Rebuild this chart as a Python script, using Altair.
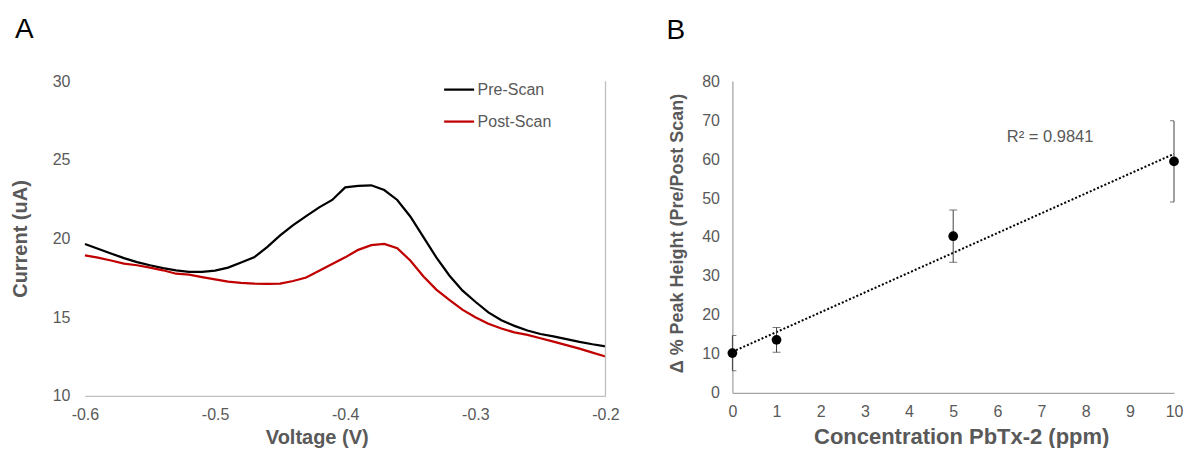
import altair as alt
import pandas as pd

FONT = "Liberation Sans"
GRAY = "#595959"

# ---------------- Panel A data ----------------
voltage = [-0.60, -0.59, -0.58, -0.57, -0.56, -0.55, -0.54, -0.53, -0.52, -0.51,
           -0.50, -0.49, -0.48, -0.47, -0.46, -0.45, -0.44, -0.43, -0.42, -0.41,
           -0.40, -0.39, -0.38, -0.37, -0.36, -0.35, -0.34, -0.33, -0.32, -0.31,
           -0.30, -0.29, -0.28, -0.27, -0.26, -0.25, -0.24, -0.23, -0.22, -0.21,
           -0.20]
pre_scan = [19.65, 19.35, 19.05, 18.75, 18.50, 18.30, 18.12, 17.98, 17.88, 17.88,
            17.96, 18.15, 18.47, 18.80, 19.45, 20.20, 20.85, 21.42, 21.98, 22.45,
            23.25, 23.35, 23.38, 23.08, 22.45, 21.40, 20.10, 18.80, 17.65, 16.70,
            15.98, 15.30, 14.80, 14.45, 14.15, 13.93, 13.78, 13.60, 13.43, 13.28,
            13.15]
post_scan = [18.93, 18.78, 18.60, 18.40, 18.30, 18.15, 17.98, 17.76, 17.71, 17.55,
             17.40, 17.26, 17.18, 17.13, 17.12, 17.13, 17.30, 17.52, 17.95, 18.38,
             18.80, 19.28, 19.58, 19.65, 19.38, 18.60, 17.60, 16.75, 16.10, 15.48,
             15.00, 14.58, 14.28, 14.03, 13.88, 13.66, 13.45, 13.22, 13.00, 12.75,
             12.50]
series_names = ["Pre-Scan", "Post-Scan"]
series_colors = ["#000000", "#C00000"]
x_ticks_A = [-0.6, -0.5, -0.4, -0.3, -0.2]
y_ticks_A = [10, 15, 20, 25, 30]

# ---------------- Panel B data ----------------
concentration = [0, 1, 5, 10]
peak_change = [10.2, 13.6, 40.2, 59.4]
peak_error = [4.5, 3.2, 6.7, 10.4]
x_ticks_B = [0, 1, 2, 3, 4, 5, 6, 7, 8, 9, 10]
y_ticks_B = [0, 10, 20, 30, 40, 50, 60, 70, 80]
r2_label = "R² = 0.9841"

dfA = pd.DataFrame({
    "Voltage": voltage + voltage,
    "Current": pre_scan + post_scan,
    "Series": [series_names[0]] * len(voltage) + [series_names[1]] * len(voltage),
})
dfB = pd.DataFrame({
    "conc": concentration,
    "peak": peak_change,
    "lo": [p - e for p, e in zip(peak_change, peak_error)],
    "hi": [p + e for p, e in zip(peak_change, peak_error)],
})

W_A, H_A = 521, 315
W_B, H_B = 442, 312

minus_fix = "replace(datum.label, '\u2212', '-')"

xA = alt.X("Voltage:Q",
           scale=alt.Scale(domain=[-0.6, -0.2], nice=False, zero=False),
           axis=alt.Axis(values=x_ticks_A, format=".1f", labelExpr=minus_fix,
                         labelFlush=False, labelOverlap=False,
                         title="Voltage (V)", titleX=232, titleY=42,
                         titleBaseline="middle", labelPadding=11,
                         domainColor="#BFBFBF"))
yA = alt.Y("Current:Q",
           scale=alt.Scale(domain=[10, 30], nice=False, zero=False),
           axis=alt.Axis(values=y_ticks_A, title="Current (uA)",
                         labelFlush=False, labelOverlap=False,
                         titleX=-64, titleY=H_A / 2, titleBaseline="middle",
                         labelPadding=15, domain=False))

linesA = alt.Chart(dfA).mark_line(strokeWidth=2.25).encode(
    x=xA, y=yA,
    color=alt.Color("Series:N",
                    scale=alt.Scale(domain=series_names, range=series_colors),
                    sort=series_names,
                    legend=alt.Legend(title=None, orient="none", legendX=358, legendY=-8,
                                      symbolType="stroke", symbolSize=900,
                                      symbolStrokeWidth=2.25, labelOffset=2,
                                      rowPadding=7, padding=0,
                                      labelFont=FONT, labelFontSize=16,
                                      labelColor=GRAY)),
    detail="Series:N",
)
right_line = alt.Chart(pd.DataFrame({"edge": [x_ticks_A[-1]]})).mark_rule(
    color="#BFBFBF", strokeWidth=1.3).encode(x="edge:Q")
label_A = alt.Chart(pd.DataFrame({"t": ["A"]})).mark_text(
    align="left", baseline="top", fontSize=28, font=FONT, color="black"
).encode(x=alt.value(-70), y=alt.value(-65), text="t:N")

panelA = alt.layer(linesA, right_line, label_A).properties(width=W_A, height=H_A)

# ---------------- Panel B ----------------
x_scale_B = alt.Scale(domain=[0, 10], nice=False)
y_scale_B = alt.Scale(domain=[0, 80], nice=False)
x_axis_B = alt.Axis(values=x_ticks_B, title="Concentration PbTx-2 (ppm)",
                    labelFlush=False, labelOverlap=False,
                    titleX=229, titleY=44, titleBaseline="middle",
                    titleFontSize=22, labelPadding=11)
y_axis_B = alt.Axis(values=y_ticks_B, title="\u0394 % Peak Height (Pre/Post Scan)",
                    labelFlush=False, labelOverlap=False, tickCount=9,
                    titleX=-55, titleY=152, titleBaseline="middle",
                    titleFontSize=18, labelPadding=13)


def xb(field):
    return alt.X(field, scale=x_scale_B, axis=x_axis_B)


def yb(field):
    return alt.Y(field, scale=y_scale_B, axis=y_axis_B)


base = alt.Chart(dfB)
trend = base.transform_regression("conc", "peak", extent=[0, 10]).mark_line(
    color="black", strokeWidth=2, strokeDash=[2, 2]).encode(x=xb("conc:Q"), y=yb("peak:Q"))
err = base.mark_rule(color="#404040", strokeWidth=1).encode(
    x=xb("conc:Q"), y=yb("lo:Q"), y2="hi:Q")
cap_lo = base.mark_tick(orient="horizontal", size=8, thickness=1, color="#404040",
                        clip=True).encode(x=xb("conc:Q"), y=yb("lo:Q"))
cap_hi = base.mark_tick(orient="horizontal", size=8, thickness=1, color="#404040",
                        clip=True).encode(x=xb("conc:Q"), y=yb("hi:Q"))
points = base.mark_circle(size=95, color="black", opacity=1).encode(
    x=xb("conc:Q"), y=yb("peak:Q"))
r2 = alt.Chart(pd.DataFrame({"t": [r2_label]})).mark_text(
    font=FONT, fontSize=16.5, color=GRAY, align="center", baseline="middle"
).encode(x=alt.value(318), y=alt.value(56), text="t:N")
label_B = alt.Chart(pd.DataFrame({"t": ["B"]})).mark_text(
    align="left", baseline="top", fontSize=28, font=FONT, color="black"
).encode(x=alt.value(-66), y=alt.value(-64), text="t:N")

panelB = alt.layer(trend, err, cap_lo, cap_hi, points, r2, label_B).properties(
    width=W_B, height=H_B)

chart = alt.hconcat(panelA, panelB, spacing=47, bounds="full").properties(
    padding={"left": 3, "top": 8, "right": 0, "bottom": 0}
).configure_view(stroke=None).configure_axis(
    grid=False, ticks=False, labelFont=FONT, labelFontSize=16, labelColor=GRAY,
    titleFont=FONT, titleFontSize=20, titleFontWeight="bold", titleColor=GRAY,
    domainColor="#A6A6A6", domainWidth=1.3,
).configure_legend(labelFont=FONT)

chart.save("out.html", embed_options={"renderer": "svg", "actions": False})
